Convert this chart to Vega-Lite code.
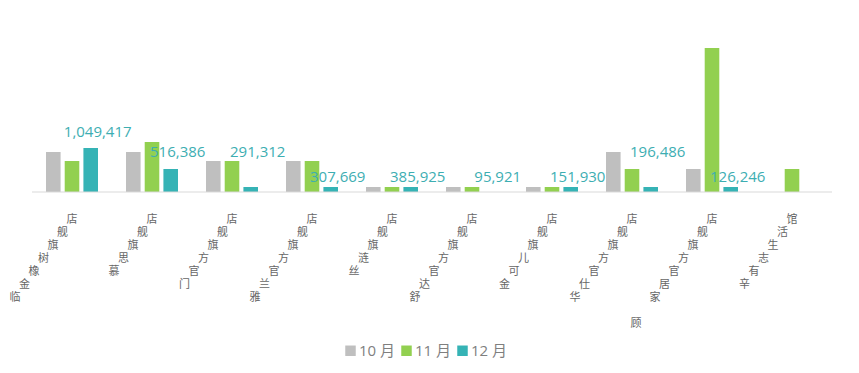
{
  "$schema": "https://vega.github.io/schema/vega-lite/v6.json",
  "width": 800,
  "height": 290,
  "autosize": "none",
  "padding": {"left": 32, "top": 42, "right": 27, "bottom": 41},
  "background": "#ffffff",
  "config": {"view": {"stroke": null}},
  "datasets": {
    "bars": [
      {"cat": "金橡树旗舰店", "m": "10 月", "v": 40},
      {"cat": "金橡树旗舰店", "m": "11 月", "v": 31},
      {"cat": "金橡树旗舰店", "m": "12 月", "v": 44},
      {"cat": "慕思旗舰店", "m": "10 月", "v": 40},
      {"cat": "慕思旗舰店", "m": "11 月", "v": 50},
      {"cat": "慕思旗舰店", "m": "12 月", "v": 23},
      {"cat": "喜临门官方旗舰店", "m": "10 月", "v": 31},
      {"cat": "喜临门官方旗舰店", "m": "11 月", "v": 31},
      {"cat": "喜临门官方旗舰店", "m": "12 月", "v": 5},
      {"cat": "雅兰官方旗舰店", "m": "10 月", "v": 31},
      {"cat": "雅兰官方旗舰店", "m": "11 月", "v": 31},
      {"cat": "雅兰官方旗舰店", "m": "12 月", "v": 5},
      {"cat": "丝涟旗舰店", "m": "10 月", "v": 5},
      {"cat": "丝涟旗舰店", "m": "11 月", "v": 5},
      {"cat": "丝涟旗舰店", "m": "12 月", "v": 5},
      {"cat": "舒达官方旗舰店", "m": "10 月", "v": 5},
      {"cat": "舒达官方旗舰店", "m": "11 月", "v": 5},
      {"cat": "金可儿旗舰店", "m": "10 月", "v": 5},
      {"cat": "金可儿旗舰店", "m": "11 月", "v": 5},
      {"cat": "金可儿旗舰店", "m": "12 月", "v": 5},
      {"cat": "芝华仕官方旗舰店", "m": "10 月", "v": 40},
      {"cat": "芝华仕官方旗舰店", "m": "11 月", "v": 23},
      {"cat": "芝华仕官方旗舰店", "m": "12 月", "v": 5},
      {"cat": "顾家家居官方旗舰店", "m": "10 月", "v": 23},
      {"cat": "顾家家居官方旗舰店", "m": "11 月", "v": 144},
      {"cat": "顾家家居官方旗舰店", "m": "12 月", "v": 5},
      {"cat": "辛有志生活馆", "m": "11 月", "v": 23}
    ],
    "labels": [
      {"cat": "金橡树旗舰店", "label": "1,049,417", "ly": 60},
      {"cat": "慕思旗舰店", "label": "516,386", "ly": 40},
      {"cat": "喜临门官方旗舰店", "label": "291,312", "ly": 40},
      {"cat": "雅兰官方旗舰店", "label": "307,669", "ly": 15},
      {"cat": "丝涟旗舰店", "label": "385,925", "ly": 15},
      {"cat": "舒达官方旗舰店", "label": "95,921", "ly": 15},
      {"cat": "金可儿旗舰店", "label": "151,930", "ly": 15},
      {"cat": "芝华仕官方旗舰店", "label": "196,486", "ly": 40},
      {"cat": "顾家家居官方旗舰店", "label": "126,246", "ly": 15}
    ],
    "chars": [
      {"cat": "金橡树旗舰店", "i": 0, "ch": "店"},
      {"cat": "金橡树旗舰店", "i": 1, "ch": "舰"},
      {"cat": "金橡树旗舰店", "i": 2, "ch": "旗"},
      {"cat": "金橡树旗舰店", "i": 3, "ch": "树"},
      {"cat": "金橡树旗舰店", "i": 4, "ch": "橡"},
      {"cat": "金橡树旗舰店", "i": 5, "ch": "金"},
      {"cat": "金橡树旗舰店", "i": 6, "ch": "临"},
      {"cat": "慕思旗舰店", "i": 0, "ch": "店"},
      {"cat": "慕思旗舰店", "i": 1, "ch": "舰"},
      {"cat": "慕思旗舰店", "i": 2, "ch": "旗"},
      {"cat": "慕思旗舰店", "i": 3, "ch": "思"},
      {"cat": "慕思旗舰店", "i": 4, "ch": "慕"},
      {"cat": "喜临门官方旗舰店", "i": 0, "ch": "店"},
      {"cat": "喜临门官方旗舰店", "i": 1, "ch": "舰"},
      {"cat": "喜临门官方旗舰店", "i": 2, "ch": "旗"},
      {"cat": "喜临门官方旗舰店", "i": 3, "ch": "方"},
      {"cat": "喜临门官方旗舰店", "i": 4, "ch": "官"},
      {"cat": "喜临门官方旗舰店", "i": 5, "ch": "门"},
      {"cat": "雅兰官方旗舰店", "i": 0, "ch": "店"},
      {"cat": "雅兰官方旗舰店", "i": 1, "ch": "舰"},
      {"cat": "雅兰官方旗舰店", "i": 2, "ch": "旗"},
      {"cat": "雅兰官方旗舰店", "i": 3, "ch": "方"},
      {"cat": "雅兰官方旗舰店", "i": 4, "ch": "官"},
      {"cat": "雅兰官方旗舰店", "i": 5, "ch": "兰"},
      {"cat": "雅兰官方旗舰店", "i": 6, "ch": "雅"},
      {"cat": "丝涟旗舰店", "i": 0, "ch": "店"},
      {"cat": "丝涟旗舰店", "i": 1, "ch": "舰"},
      {"cat": "丝涟旗舰店", "i": 2, "ch": "旗"},
      {"cat": "丝涟旗舰店", "i": 3, "ch": "涟"},
      {"cat": "丝涟旗舰店", "i": 4, "ch": "丝"},
      {"cat": "舒达官方旗舰店", "i": 0, "ch": "店"},
      {"cat": "舒达官方旗舰店", "i": 1, "ch": "舰"},
      {"cat": "舒达官方旗舰店", "i": 2, "ch": "旗"},
      {"cat": "舒达官方旗舰店", "i": 3, "ch": "方"},
      {"cat": "舒达官方旗舰店", "i": 4, "ch": "官"},
      {"cat": "舒达官方旗舰店", "i": 5, "ch": "达"},
      {"cat": "舒达官方旗舰店", "i": 6, "ch": "舒"},
      {"cat": "金可儿旗舰店", "i": 0, "ch": "店"},
      {"cat": "金可儿旗舰店", "i": 1, "ch": "舰"},
      {"cat": "金可儿旗舰店", "i": 2, "ch": "旗"},
      {"cat": "金可儿旗舰店", "i": 3, "ch": "儿"},
      {"cat": "金可儿旗舰店", "i": 4, "ch": "可"},
      {"cat": "金可儿旗舰店", "i": 5, "ch": "金"},
      {"cat": "芝华仕官方旗舰店", "i": 0, "ch": "店"},
      {"cat": "芝华仕官方旗舰店", "i": 1, "ch": "舰"},
      {"cat": "芝华仕官方旗舰店", "i": 2, "ch": "旗"},
      {"cat": "芝华仕官方旗舰店", "i": 3, "ch": "方"},
      {"cat": "芝华仕官方旗舰店", "i": 4, "ch": "官"},
      {"cat": "芝华仕官方旗舰店", "i": 5, "ch": "仕"},
      {"cat": "芝华仕官方旗舰店", "i": 6, "ch": "华"},
      {"cat": "顾家家居官方旗舰店", "i": 0, "ch": "店"},
      {"cat": "顾家家居官方旗舰店", "i": 1, "ch": "舰"},
      {"cat": "顾家家居官方旗舰店", "i": 2, "ch": "旗"},
      {"cat": "顾家家居官方旗舰店", "i": 3, "ch": "方"},
      {"cat": "顾家家居官方旗舰店", "i": 4, "ch": "官"},
      {"cat": "顾家家居官方旗舰店", "i": 5, "ch": "居"},
      {"cat": "顾家家居官方旗舰店", "i": 6, "ch": "家"},
      {"cat": "顾家家居官方旗舰店", "i": 8, "ch": "顾"},
      {"cat": "辛有志生活馆", "i": 0, "ch": "馆"},
      {"cat": "辛有志生活馆", "i": 1, "ch": "活"},
      {"cat": "辛有志生活馆", "i": 2, "ch": "生"},
      {"cat": "辛有志生活馆", "i": 3, "ch": "志"},
      {"cat": "辛有志生活馆", "i": 4, "ch": "有"},
      {"cat": "辛有志生活馆", "i": 5, "ch": "辛"}
    ]
  },
  "layer": [
    {
      "layer": [
        {
          "data": {"name": "bars"},
          "mark": {"type": "bar"},
          "encoding": {
            "x": {"field": "cat", "type": "nominal", "axis": null,
              "scale": {"domain": ["金橡树旗舰店", "慕思旗舰店", "喜临门官方旗舰店", "雅兰官方旗舰店", "丝涟旗舰店", "舒达官方旗舰店", "金可儿旗舰店", "芝华仕官方旗舰店", "顾家家居官方旗舰店", "辛有志生活馆"], "paddingInner": 0.35, "paddingOuter": 0.175}},
            "xOffset": {"field": "m", "type": "nominal", "scale": {"domain": ["10 月", "11 月", "12 月"], "paddingInner": 0.22, "paddingOuter": 0}},
            "y": {"field": "v", "type": "quantitative", "axis": null, "scale": {"domain": [-140, 150], "nice": false}},
            "color": {"field": "m", "type": "nominal",
              "scale": {"domain": ["10 月", "11 月", "12 月"], "range": ["#BFBFBF", "#92D050", "#35B3B5"]},
              "legend": {"orient": "none", "legendX": 311, "legendY": 301, "direction": "horizontal", "title": null, "symbolType": "square", "symbolSize": 110, "symbolStrokeWidth": 0, "labelFontSize": 15, "labelColor": "#7F7F7F", "labelFont": "Open Sans, Noto Sans CJK SC", "columnPadding": 3, "labelOffset": 1}
            }
          }
        },
        {
          "data": {"values": [{}]},
          "mark": {"type": "rule", "color": "#D9D9D9", "strokeWidth": 1},
          "encoding": {"y": {"datum": 0}}
        },
        {
          "data": {"name": "labels"},
          "mark": {"type": "text", "font": "Open Sans", "fontSize": 15, "color": "#3DAEB2", "baseline": "middle", "align": "center", "dx": 7},
          "encoding": {
            "x": {"field": "cat", "type": "nominal", "axis": null},
            "xOffset": {"datum": "12 月"},
            "y": {"field": "ly", "type": "quantitative"},
            "text": {"field": "label"}
          }
        }
      ]
    },
    {
      "data": {"name": "chars"},
      "mark": {"type": "text", "font": "Noto Sans CJK SC", "fontSize": 11, "color": "#666666", "baseline": "middle", "align": "center"},
      "encoding": {
        "x": {"field": "cat", "type": "nominal", "axis": null},
        "xOffset": {"field": "i", "type": "quantitative", "scale": {"domain": [-2.74, 2.74], "reverse": true, "nice": false, "zero": false}},
        "y": {"field": "i", "type": "quantitative", "axis": null, "scale": {"domain": [-13.69, 8.62], "reverse": true, "nice": false, "zero": false}},
        "text": {"field": "ch"}
      }
    }
  ],
  "resolve": {"scale": {"xOffset": "independent", "y": "independent"}}
}
